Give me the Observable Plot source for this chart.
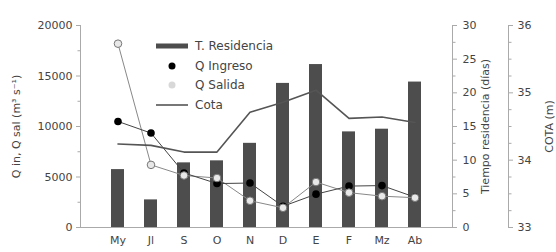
<!DOCTYPE html>
<html><head><meta charset="utf-8">
<script src="https://cdn.jsdelivr.net/npm/d3@7"></script>
<script src="https://cdn.jsdelivr.net/npm/@observablehq/plot@0.6"></script>
<style>
body{margin:0;background:#fff}
#chart{position:relative;width:556px;height:252px}
#legend{position:absolute;left:156px;top:36.5px;font:12px "DejaVu Sans";color:#444}
.row{display:flex;align-items:center;height:19.6px;white-space:nowrap}
.sw{width:32px;height:10px;margin-right:7px}
</style></head><body><div id="chart"></div>
<script>
// Data
const months = ["My","Jl","S","O","N","D","E","F","Mz","Ab"];
const tResidencia = [8.6, 4.1, 9.6, 9.9, 12.5, 21.4, 24.2, 14.2, 14.6, 21.6]; // días
const qIngreso = [10500, 9350, 5400, 4350, 4400, 2100, 3300, 4100, 4150, 3000];
const qSalida  = [18200, 6200, 5150, 4900, 2650, 1950, 4500, 3450, 3100, 2950];
const cota = [34.24, 34.22, 34.12, 34.12, 34.71, 34.86, 35.04, 34.62, 34.64, 34.56];

const qTicks = [0, 5000, 10000, 15000, 20000];
const qMinor = [2500, 7500, 12500, 17500];
const trTicks = [0, 5, 10, 15, 20, 25, 30];
const trMinor = [2.5, 7.5, 12.5, 17.5, 22.5, 27.5];
const cotaTicks = [33, 34, 35, 36];
const cotaMinor = [33.25, 33.5, 33.75, 34.25, 34.5, 34.75, 35.25, 35.5, 35.75];

const QMAX = 20000, TRMAX = 30, CMIN = 33, CMAX = 36;
const fromTR = v => v * QMAX / TRMAX;
const fromCota = v => (v - CMIN) * QMAX / (CMAX - CMIN);

const rows = months.map((m, i) => ({m, tr: tResidencia[i], qi: qIngreso[i], qs: qSalida[i], c: cota[i]}));

const axisColor = "#aaa";
const plot = Plot.plot({
  width: 556, height: 252,
  marginLeft: 80, marginRight: 104, marginTop: 25, marginBottom: 25,
  style: {fontFamily: "DejaVu Sans", fontSize: "11px", color: "#444", background: "#fff"},
  x: {type: "band", domain: months, paddingInner: 0.615, paddingOuter: 0.81, axis: null},
  y: {domain: [0, QMAX], axis: null},
  marks: [
    Plot.barY(rows, {x: "m", y: d => fromTR(d.tr), fill: "#4d4d4d"}),
    Plot.frame({anchor: "left", stroke: axisColor}),
    Plot.frame({anchor: "bottom", stroke: axisColor}),
    Plot.frame({anchor: "right", stroke: axisColor}),
    Plot.frame({anchor: "right", stroke: axisColor, insetRight: -56}),
    Plot.axisX({tickSize: 0, tickPadding: 9, label: null}),
    Plot.axisY(qTicks, {anchor: "left", tickSize: 4, tickPadding: 4, stroke: axisColor, fill: "#444", tickFormat: d => String(d), label: null}),
    Plot.axisY(qMinor, {anchor: "left", tickSize: 2.5, stroke: axisColor, fill: "none", label: null}),
    Plot.axisY(trTicks.map(fromTR), {anchor: "right", tickSize: 4, tickPadding: 6, stroke: axisColor, fill: "#444", tickFormat: d => String(Math.round(d * TRMAX / QMAX)), label: null}),
    Plot.axisY(trMinor.map(fromTR), {anchor: "right", tickSize: 2.5, stroke: axisColor, fill: "none", label: null}),
    Plot.axisY(cotaTicks.map(fromCota), {anchor: "right", dx: 56, tickSize: 4, tickPadding: 5, stroke: axisColor, fill: "#444", tickFormat: d => String(Math.round(CMIN + d * (CMAX - CMIN) / QMAX)), label: null}),
    Plot.axisY(cotaMinor.map(fromCota), {anchor: "right", dx: 56, tickSize: 2.5, stroke: axisColor, fill: "none", label: null}),
    Plot.line(rows, {x: "m", y: "qs", stroke: "#888", strokeWidth: 1}),
    Plot.line(rows, {x: "m", y: "qi", stroke: "#444", strokeWidth: 1}),
    Plot.line(rows, {x: "m", y: d => fromCota(d.c), stroke: "#555", strokeWidth: 1.6}),
    Plot.dot(rows, {x: "m", y: "qi", r: 3.8, fill: "#000"}),
    Plot.dot(rows, {x: "m", y: "qs", r: 3.8, fill: "#e8e8e8", stroke: "#777", strokeWidth: 1}),
    Plot.text(["Q in, Q sal (m³ s⁻¹)"], {frameAnchor: "left", dx: -64, rotate: -90, textAnchor: "middle", fill: "#444", fontSize: 11}),
    Plot.text(["Tiempo residencia (días)"], {frameAnchor: "right", dx: 33, rotate: -90, textAnchor: "middle", fill: "#444", fontSize: 11}),
    Plot.text(["COTA (m)"], {frameAnchor: "right", dx: 97, rotate: -90, textAnchor: "middle", fill: "#444", fontSize: 11})
  ]
});
const chart = document.getElementById("chart");
chart.appendChild(plot);

const legendItems = [
  {label: "T. Residencia", kind: "bar"},
  {label: "Q Ingreso", kind: "dotBlack"},
  {label: "Q Salida", kind: "dotGray"},
  {label: "Cota", kind: "line"}
];
const legend = document.createElement("div");
legend.id = "legend";
for (const it of legendItems) {
  const row = document.createElement("div");
  row.className = "row";
  let sw;
  if (it.kind === "bar") sw = '<rect x="0" y="2.5" width="32" height="5" fill="#4d4d4d"/>';
  else if (it.kind === "dotBlack") sw = '<circle cx="16" cy="5" r="3.5" fill="#000"/>';
  else if (it.kind === "dotGray") sw = '<circle cx="16" cy="5" r="3.5" fill="#d8d8d8"/>';
  else sw = '<line x1="0" x2="32" y1="5" y2="5" stroke="#555" stroke-width="1.6"/>';
  row.innerHTML = `<svg class="sw" viewBox="0 0 32 10">${sw}</svg><span>${it.label}</span>`;
  legend.appendChild(row);
}
chart.appendChild(legend);
</script></body></html>
